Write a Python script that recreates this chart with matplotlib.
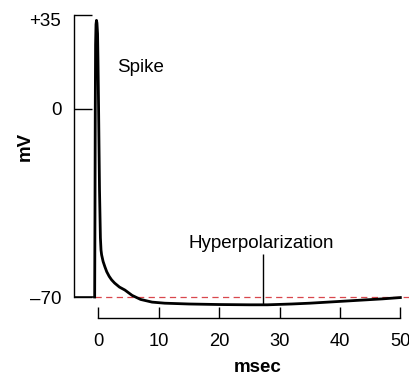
import numpy as np
import matplotlib
matplotlib.use("Agg")
import matplotlib.pyplot as plt
import matplotlib.transforms as mtransforms

plt.rcParams['font.family'] = ['Liberation Sans', 'DejaVu Sans']

# membrane potential trace (msec, mV)
t_ms = [-0.6, -0.55, -0.5, -0.45, -0.38, -0.3, -0.22, -0.12, -0.05, 0.05, 0.2, 0.35,
        0.45, 0.55, 0.8, 1.1, 1.4, 1.8, 2.2, 2.7, 3.5, 4.4, 5.6, 7.0, 8.9, 11.0,
        15.0, 20.0, 25.0, 28.0, 32.0, 35.0, 38.0, 41.0, 44.0, 47.0, 50.0]
v_mv = [-70.0, -40.0, 0.0, 24.0, 31.5, 33.0, 32.0, 28.0, 18.0, 0.0, -30.0, -48.0,
        -52.5, -54.3, -56.8, -58.8, -60.6, -62.3, -63.6, -64.8, -66.3, -67.4, -69.4, -70.9, -71.9, -72.3,
        -72.6, -72.8, -72.9, -72.9, -72.6, -72.3, -71.9, -71.5, -71.1, -70.7, -70.2]

resting_mv = -70
hyper_t = 27.3
y_ticks = [-70, 0, 35]
y_ticklabels = ['\u201370', '0', '+35']
x_ticks = [0, 10, 20, 30, 40, 50]

fig = plt.figure(figsize=(4.09, 3.77), dpi=100)
ax = fig.add_axes([0, 0, 1, 1])
ax.set_xlim(-16.27, 51.43)
ax.set_ylim(-99.78, 40.58)
ax.patch.set_alpha(0)

# resting potential reference
ax.hlines(resting_mv, -0.5, 52, color='#d9474d', lw=0.9, linestyle=(0, (5, 3.5)), zorder=1)

# trace
ax.plot(t_ms, v_mv, color='black', lw=2.0, solid_joinstyle='round', zorder=3)

# -70 baseline from the bracket to the spike start
ax.hlines(resting_mv, -3.94, t_ms[0], color='black', lw=1.1, zorder=2)

# pointer to the hyperpolarization
v_at = np.interp(hyper_t, t_ms, v_mv)
ax.vlines(hyper_t, v_at, -54, color='black', lw=1.0)

# axes as bracket and ruler
for s in ['top', 'right']:
    ax.spines[s].set_visible(False)
ax.spines['left'].set_position(('data', -3.94))
ax.spines['left'].set_bounds(-70, 35)
ax.spines['bottom'].set_position(('data', -77.8))
ax.spines['bottom'].set_bounds(0, 50)
ax.spines['left'].set_linewidth(1.0)
ax.spines['bottom'].set_linewidth(1.0)

ax.set_yticks(y_ticks)
ax.set_yticklabels(y_ticklabels)
ax.set_xticks(x_ticks)
ax.tick_params(axis='y', direction='in', length=13, width=1.0, pad=9.5, labelsize=13.5)
ax.tick_params(axis='x', direction='in', length=8, width=1.0, pad=11, labelsize=13.2)

# the +35 label sits a little below its tick in the original
top_label = ax.get_yticklabels()[-1]
top_label.set_transform(top_label.get_transform() +
                        mtransforms.ScaledTranslation(0, -5 / 100, fig.dpi_scale_trans))

ax.text(7.0, 15.3, 'Spike', fontsize=13.5, ha='center', va='center')
ax.text(26.9, -49.9, 'Hyperpolarization', fontsize=13.5, ha='center', va='center')
ax.text(26.4, -96.4, 'msec', fontsize=13.5, fontweight='bold', ha='center', va='center')
ax.text(-12.1, -14.1, 'mV', fontsize=13.5, fontweight='bold', ha='center', va='center',
        rotation=90)

fig.savefig('out.png', dpi=100)
